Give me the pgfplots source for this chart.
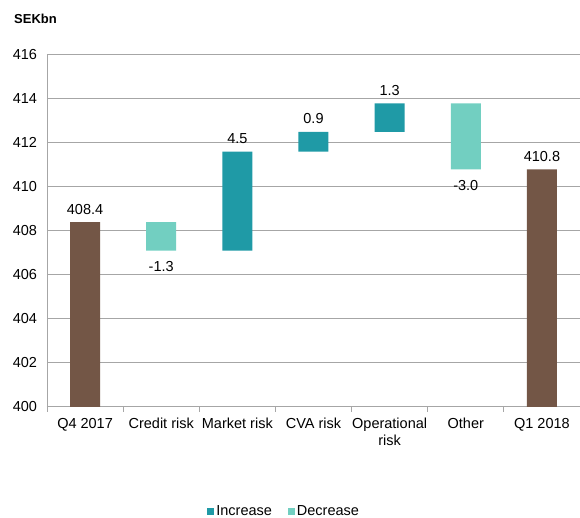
\documentclass[border=0pt]{standalone}
\usepackage{pgfplots}
\pgfplotsset{compat=1.18}
\usepackage{fontspec}
\setmainfont{Liberation Sans}
\definecolor{total}{HTML}{735646}
\definecolor{inc}{HTML}{1F9AA6}
\definecolor{dec}{HTML}{72CFC1}
\definecolor{gridc}{HTML}{A6A6A6}
\newcommand\lf{\fontsize{14.5}{17.5}\selectfont}
\begin{document}
\lf
\begin{tikzpicture}
\useasboundingbox (0,0) rectangle (580pt,-518pt);
\node[anchor=base west, font=\bfseries\fontsize{13}{15}\selectfont, inner sep=0pt] at (14pt,-24pt) {SEKbn};
\begin{axis}[
  at={(47pt,-407pt)}, anchor=south west,
  scale only axis, width=533pt, height=352pt,
  ybar stacked, bar width=30pt,
  xmin=-0.5, xmax=6.5, ymin=400, ymax=416,
  ytick={400,402,...,416},
  xtick={0,...,6},
  xticklabels={Q4 2017, Credit risk, Market risk, CVA risk, {Operational\\risk}, Other, Q1 2018},
  xticklabel style={align=center, font=\lf, yshift=-6pt},
  yticklabel style={font=\lf, xshift=-5pt},
  /pgf/number format/assume math mode=true,
  minor xtick={-0.5,0.5,...,6.5},
  major tick length=0pt, minor tick length=5pt,
  tick align=outside,
  minor tick style={gridc, line width=0.8pt},
  axis lines*=left,
  axis line style={gridc, line width=0.8pt, -},
  ymajorgrids, grid style={gridc, line width=0.8pt},
  legend style={at={(axis description cs:0.445,-0.297)}, anchor=center,
    legend columns=2, draw=none, fill=none, font=\lf, inner sep=1pt,
    /tikz/every even column/.append style={column sep=14pt}},
  legend image code/.code={\fill[#1] (0pt,-3.5pt) rectangle (7pt,3.5pt);},
]
\addplot[fill=none, draw=none, forget plot] coordinates {(0,0) (1,407.1) (2,407.1) (3,411.6) (4,412.5) (5,410.8) (6,0)};
\addplot[fill=total, draw=none, forget plot] coordinates {(0,408.4) (1,0) (2,0) (3,0) (4,0) (5,0) (6,410.8)};
\addplot[fill=inc, draw=none] coordinates {(0,0) (1,0) (2,4.5) (3,0.9) (4,1.3) (5,0) (6,0)};
\addlegendentry{Increase}
\addplot[fill=dec, draw=none] coordinates {(0,0) (1,1.3) (2,0) (3,0) (4,0) (5,3.0) (6,0)};
\addlegendentry{Decrease}
\end{axis}
\begin{axis}[
  at={(47pt,-407pt)}, anchor=south west,
  scale only axis, width=533pt, height=352pt,
  xmin=-0.5, xmax=6.5, ymin=400, ymax=416,
  hide axis, clip=false,
]
\addplot[draw=none, mark=none, nodes near coords, point meta=explicit symbolic,
  every node near coord/.style={anchor=base, yshift=8pt, font=\lf}]
  table[meta=lab] {
x y lab
0 408.4 408.4
2 411.6 4.5
3 412.5 0.9
4 413.8 1.3
6 410.8 410.8
};
\addplot[draw=none, mark=none, nodes near coords, point meta=explicit symbolic,
  every node near coord/.style={anchor=base, yshift=-21pt, font=\lf}]
  table[meta=lab] {
x y lab
1 407.1 -1.3
5 410.8 -3.0
};
\end{axis}
\end{tikzpicture}
\end{document}
